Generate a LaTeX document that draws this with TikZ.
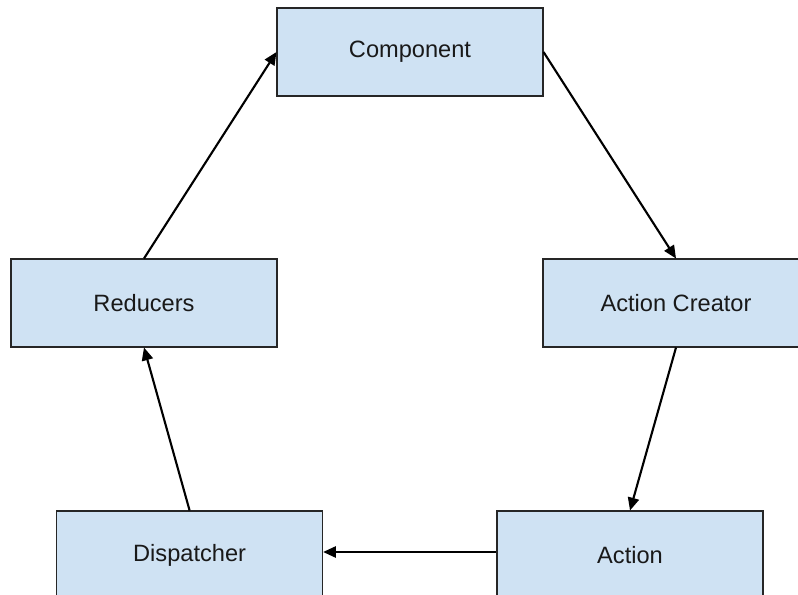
\documentclass[tikz,border=0pt]{standalone}
\usepackage{fontspec}
\setmainfont{Liberation Sans}
\usetikzlibrary{arrows.meta}
\definecolor{boxblue}{HTML}{CFE2F3}

\begin{document}
\begin{tikzpicture}[
  box/.style={rectangle, draw=black!85, fill=boxblue, line width=0.75pt, minimum width=6.65cm, minimum height=2.2cm, font=\fontsize{16.8}{20}\selectfont, text=black!90},
  arrow/.style={-{Triangle[length=3.2mm, width=2.8mm]}, line width=1.5pt},
]
\clip (0,0) rectangle (19.95,-14.875);

% === REDUX DATA FLOW CYCLE ===
\node[box] (component) at (10.25, -1.3) {Component};
\node[box] (creator) at (16.9, -7.575) {Action Creator};
\node[box] (reducers) at (3.6, -7.575) {Reducers};
\node[box] (dispatcher) at (4.74, -13.875) {Dispatcher};
\node[box] (action) at (15.75, -13.875) {Action};

\draw[arrow] (component.east) -- (creator.north);
\draw[arrow] (creator.south) -- (action.north);
\draw[arrow] ([yshift=0.075cm]action.west) -- ([yshift=0.075cm]dispatcher.east);
\draw[arrow] (dispatcher.north) -- (reducers.south);
\draw[arrow] (reducers.north) -- (component.west);
\end{tikzpicture}
\end{document}
